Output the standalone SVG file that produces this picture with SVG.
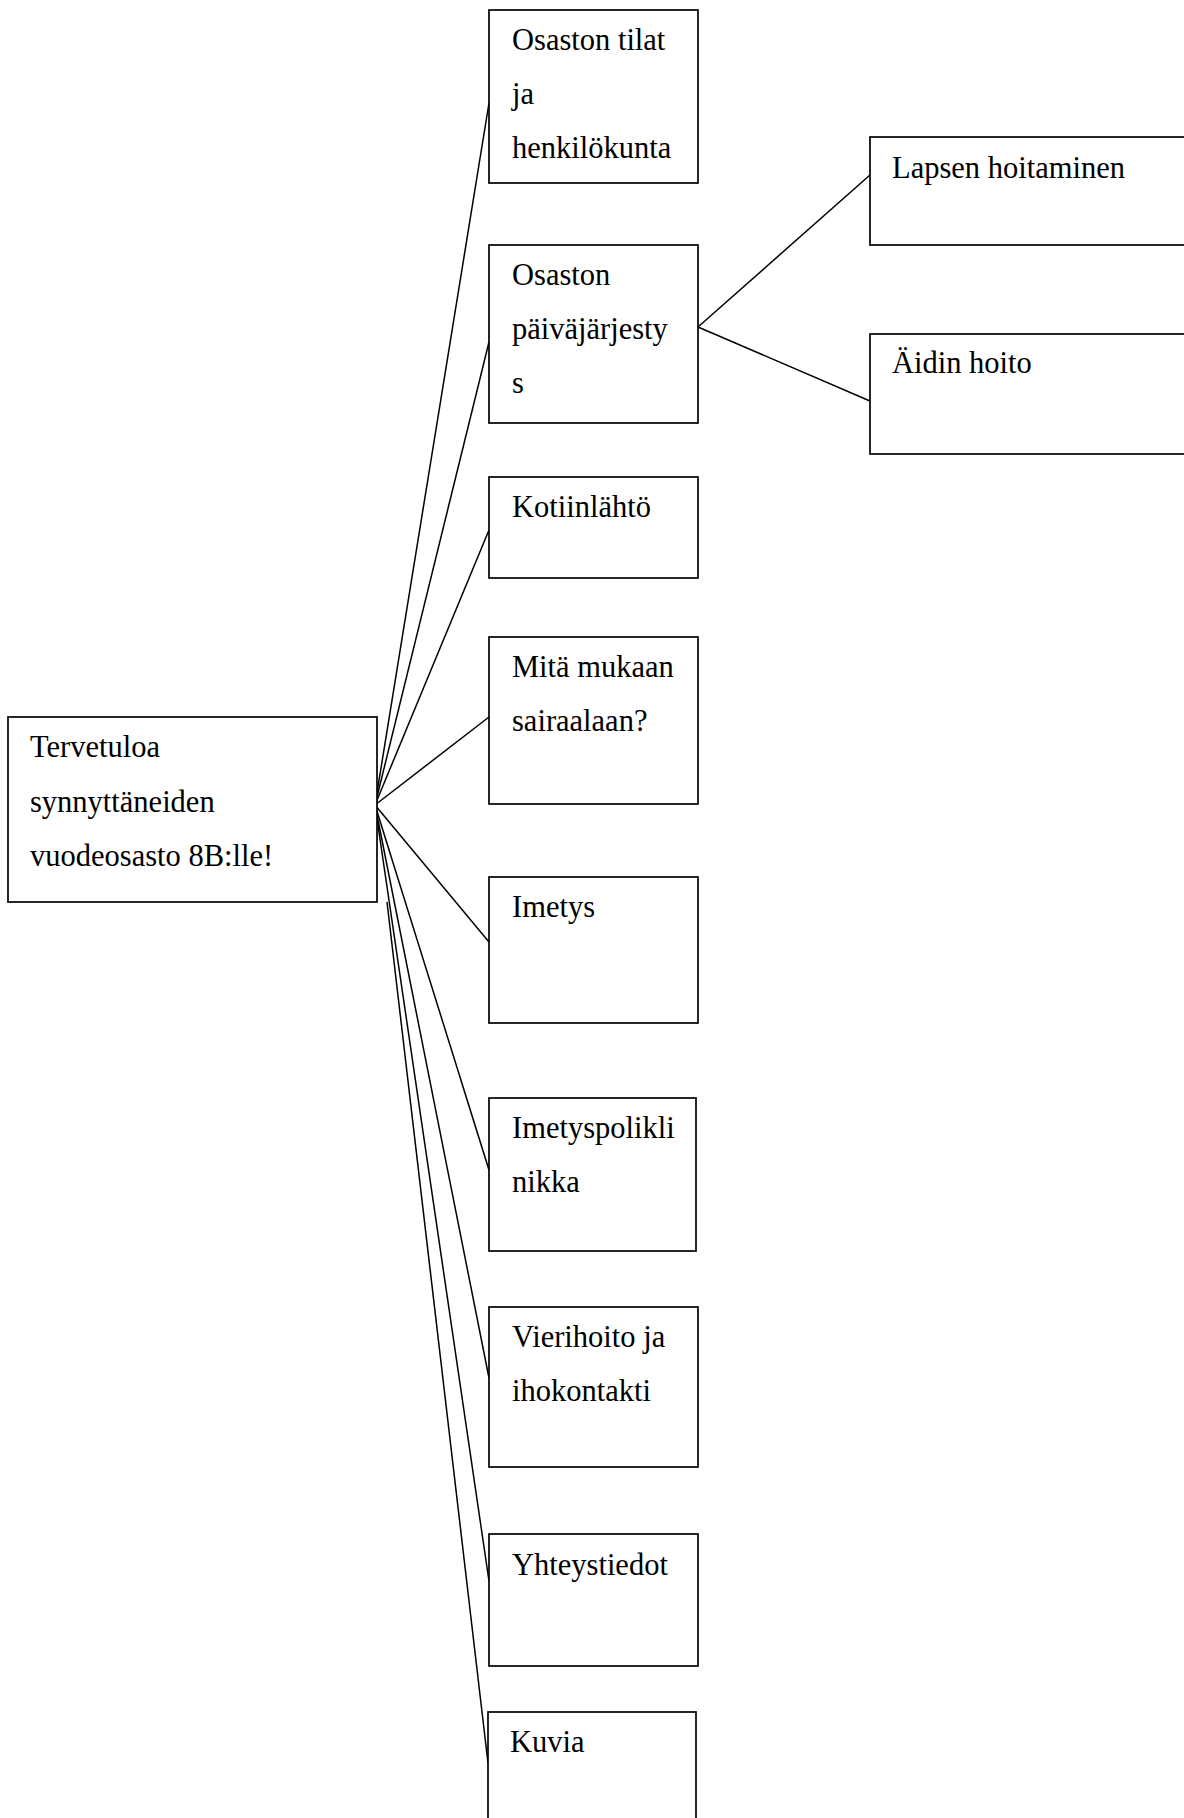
<svg xmlns="http://www.w3.org/2000/svg" width="1184" height="1818" viewBox="0 0 1184 1818">
<style>
.box{fill:#fff;stroke:#000;stroke-width:1.7}
.t{font-family:"Liberation Serif","Times New Roman",serif;font-size:30.5px;fill:#000}
.c{stroke:#000;stroke-width:1.5;fill:none}
</style>
<rect width="1184" height="1818" fill="#fff"/>
<g id="connectors">
<line class="c" x1="375" y1="805" x2="489" y2="103"/>
<line class="c" x1="375" y1="805" x2="489" y2="342"/>
<line class="c" x1="375" y1="805" x2="489" y2="530"/>
<line class="c" x1="375" y1="805" x2="489" y2="717"/>
<line class="c" x1="375" y1="805" x2="489" y2="942"/>
<line class="c" x1="375" y1="805" x2="489" y2="1170"/>
<line class="c" x1="375" y1="805" x2="489" y2="1378"/>
<line class="c" x1="375" y1="805" x2="489" y2="1581"/>
<line class="c" x1="387" y1="902" x2="488" y2="1763"/>
<line class="c" x1="698" y1="327" x2="870" y2="175"/>
<line class="c" x1="698" y1="327" x2="870" y2="401"/>
</g>
<g id="n-main">
<rect class="box" x="8" y="717" width="369" height="185"/>
<text class="t" x="30" y="757">Tervetuloa</text>
<text class="t" x="30" y="812">synnyttäneiden</text>
<text class="t" x="30" y="866">vuodeosasto 8B:lle!</text>
</g>
<g id="n-tilat">
<rect class="box" x="489" y="10" width="209" height="173"/>
<text class="t" x="512" y="50">Osaston tilat</text>
<text class="t" x="512" y="104">ja</text>
<text class="t" x="512" y="158">henkilökunta</text>
</g>
<g id="n-paivajarjestys">
<rect class="box" x="489" y="245" width="209" height="178"/>
<text class="t" x="512" y="285">Osaston</text>
<text class="t" x="512" y="339">päiväjärjesty</text>
<text class="t" x="512" y="393">s</text>
</g>
<g id="n-kotiinlahto">
<rect class="box" x="489" y="477" width="209" height="101"/>
<text class="t" x="512" y="517">Kotiinlähtö</text>
</g>
<g id="n-mukaan">
<rect class="box" x="489" y="637" width="209" height="167"/>
<text class="t" x="512" y="677">Mitä mukaan</text>
<text class="t" x="512" y="731">sairaalaan?</text>
</g>
<g id="n-imetys">
<rect class="box" x="489" y="877" width="209" height="146"/>
<text class="t" x="512" y="917">Imetys</text>
</g>
<g id="n-poliklinikka">
<rect class="box" x="489" y="1098" width="207" height="153"/>
<text class="t" x="512" y="1138">Imetyspolikli</text>
<text class="t" x="512" y="1192">nikka</text>
</g>
<g id="n-vierihoito">
<rect class="box" x="489" y="1307" width="209" height="160"/>
<text class="t" x="512" y="1347">Vierihoito ja</text>
<text class="t" x="512" y="1401">ihokontakti</text>
</g>
<g id="n-yhteystiedot">
<rect class="box" x="489" y="1534" width="209" height="132"/>
<text class="t" x="512" y="1575">Yhteystiedot</text>
</g>
<g id="n-kuvia">
<rect class="box" x="488" y="1712" width="208" height="120"/>
<text class="t" x="510" y="1752">Kuvia</text>
</g>
<g id="n-lapsen">
<rect class="box" x="870" y="137" width="320" height="108"/>
<text class="t" x="892" y="178">Lapsen hoitaminen</text>
</g>
<g id="n-aidin">
<rect class="box" x="870" y="334" width="320" height="120"/>
<text class="t" x="892" y="373">Äidin hoito</text>
</g>
</svg>
